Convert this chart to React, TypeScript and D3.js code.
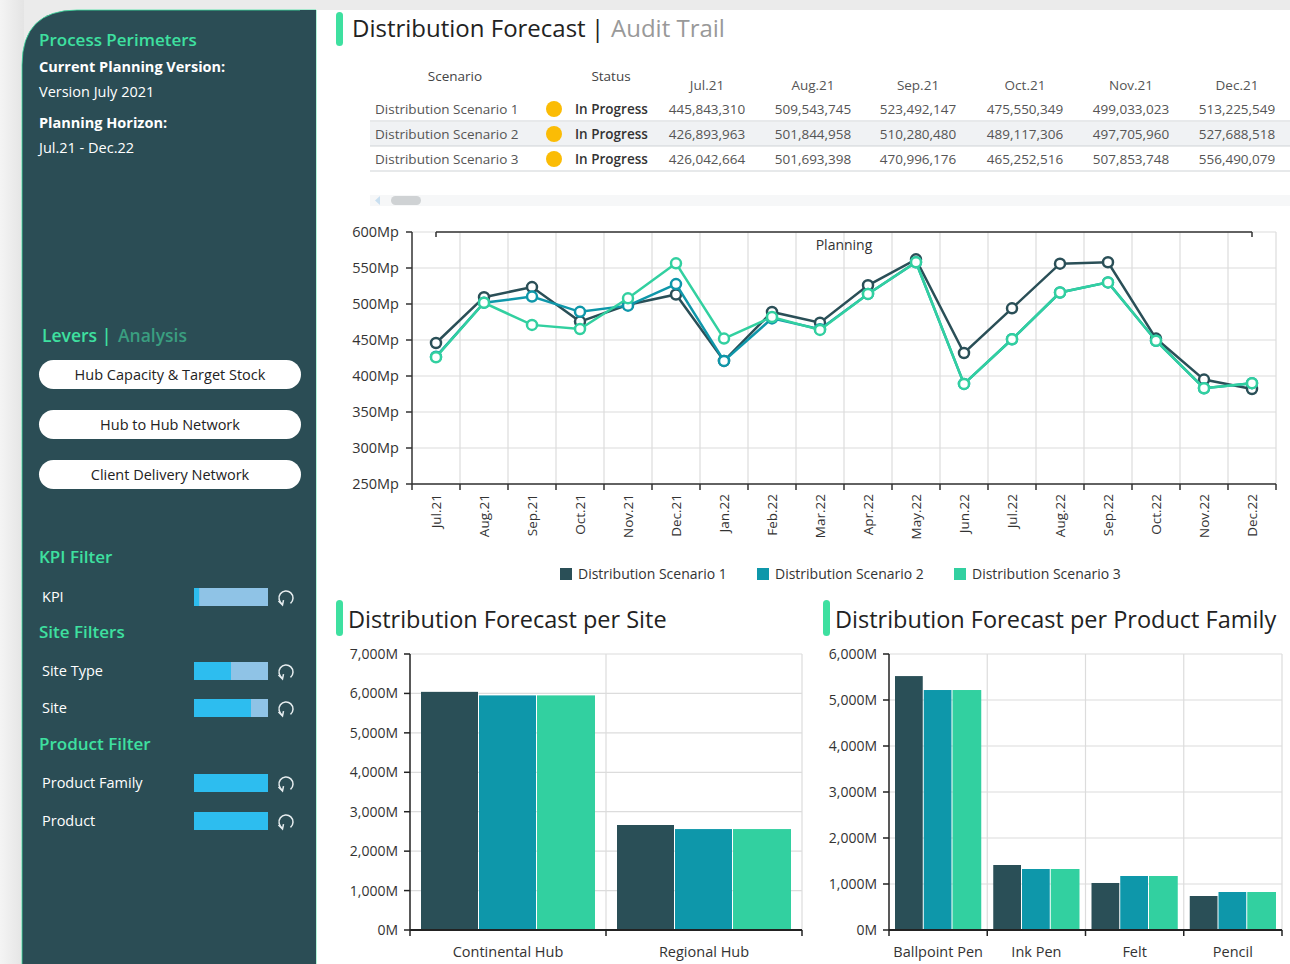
import React from "react";
import * as d3 from "d3";

const FONT = "'Open Sans', 'Noto Sans', sans-serif";
const C1 = "#2a4f57";
const C2 = "#0e97aa";
const C3 = "#32d0a0";
const GREEN = "#3ee0a0";
const SIDEBAR = "#2b4d55";

const scenarioNames = ["Distribution Scenario 1", "Distribution Scenario 2", "Distribution Scenario 3"];
const tableMonths = ["Jul.21", "Aug.21", "Sep.21", "Oct.21", "Nov.21", "Dec.21"];
const tableS1 = [445843310, 509543745, 523492147, 475550349, 499033023, 513225549];
const tableS2 = [426893963, 501844958, 510280480, 489117306, 497705960, 527688518];
const tableS3 = [426042664, 501693398, 470996176, 465252516, 507853748, 556490079];

const months = ["Jul.21", "Aug.21", "Sep.21", "Oct.21", "Nov.21", "Dec.21", "Jan.22", "Feb.22", "Mar.22", "Apr.22", "May.22", "Jun.22", "Jul.22", "Aug.22", "Sep.22", "Oct.22", "Nov.22", "Dec.22"];
const lineS1 = [445.8, 509.5, 523.5, 475.6, 499.0, 513.2, 421, 489, 474, 526, 562, 432, 494, 556, 558, 452, 395, 382];
const lineS2 = [426.9, 501.8, 510.3, 489.1, 497.7, 527.7, 421, 480, 465, 514, 558, 389, 451, 516, 530, 449, 383, 390];
const lineS3 = [426.0, 501.7, 471.0, 465.3, 507.9, 556.5, 452, 482, 464, 514, 558, 389, 451, 516, 530, 449, 383, 390];
const lineTicks = [250, 300, 350, 400, 450, 500, 550, 600];

const sites = ["Continental Hub", "Regional Hub"];
const siteS1 = [6040, 2663];
const siteS2 = [5950, 2560];
const siteS3 = [5950, 2560];
const siteTicks = [0, 1000, 2000, 3000, 4000, 5000, 6000, 7000];

const families = ["Ballpoint Pen", "Ink Pen", "Felt", "Pencil"];
const famS1 = [5520, 1413, 1022, 739];
const famS2 = [5217, 1326, 1174, 826];
const famS3 = [5217, 1326, 1174, 826];
const famTicks = [0, 1000, 2000, 3000, 4000, 5000, 6000];

const filters = [
  { label: "KPI", frac: 0.07, y: 597 },
  { label: "Site Type", frac: 0.5, y: 671 },
  { label: "Site", frac: 0.77, y: 708 },
  { label: "Product Family", frac: 1, y: 783 },
  { label: "Product", frac: 1, y: 821 },
];
const filterHeads = [
  { label: "KPI Filter", y: 557 },
  { label: "Site Filters", y: 632 },
  { label: "Product Filter", y: 744 },
];
const levers = ["Hub Capacity & Target Stock", "Hub to Hub Network", "Client Delivery Network"];

function ResetIcon({ cx, cy }: { cx: number; cy: number }) {
  const r = 7;
  const p = d3.path();
  const a0 = (120 * Math.PI) / 180;
  const a1 = ((120 + 290) * Math.PI) / 180;
  p.arc(cx, cy, r, a0, a1);
  const ex = cx + r * Math.cos(a0);
  const ey = cy + r * Math.sin(a0);
  return (
    <g>
      <path d={p.toString()} fill="none" stroke="#e8eef0" strokeWidth={1.5} />
      <path d={`M${ex - 4},${ey - 3} L${ex},${ey + 1} L${ex + 1},${ey - 4}`} fill="none" stroke="#e8eef0" strokeWidth={1.5} />
    </g>
  );
}

function Sidebar() {
  const sw = 74;
  return (
    <g fontFamily={FONT}>
      <path d="M22,65 Q22,10 77,10 L316,10 L316,970 L22,970 Z" fill={SIDEBAR} stroke={GREEN} strokeWidth={0.8} />
      <rect x={300} y={10} width={16} height={960} fill={SIDEBAR} />
      <text x={39} y={46} fill={GREEN} fontSize={17} fontWeight={600}>Process Perimeters</text>
      <text x={39} y={72} fill="#fff" fontSize={14.5} fontWeight={700}>Current Planning Version:</text>
      <text x={39} y={97} fill="#fff" fontSize={14.5}>Version July 2021</text>
      <text x={39} y={128} fill="#fff" fontSize={14.5} fontWeight={700}>Planning Horizon:</text>
      <text x={39} y={153} fill="#fff" fontSize={14.5}>Jul.21 - Dec.22</text>

      <text x={42} y={342} fill={GREEN} fontSize={17.5} fontWeight={600}>Levers |</text>
      <text x={118} y={342} fill="#3a9e80" fontSize={17.5} fontWeight={600}>Analysis</text>
      {levers.map((l, i) => (
        <g key={l}>
          <rect x={39} y={360 + i * 50} width={262} height={29} rx={14.5} fill="#fff" />
          <text x={170} y={380 + i * 50} textAnchor="middle" fill="#222" fontSize={14.5}>{l}</text>
        </g>
      ))}
      {filterHeads.map((h) => (
        <text key={h.label} x={39} y={h.y + 6} fill={GREEN} fontSize={17} fontWeight={600}>{h.label}</text>
      ))}
      {filters.map((f) => (
        <g key={f.label}>
          <text x={42} y={f.y + 5} fill="#fff" fontSize={14.5}>{f.label}</text>
          <rect x={194} y={f.y - 9} width={sw} height={18} fill="#8fc3e6" />
          <rect x={194} y={f.y - 9} width={sw * f.frac} height={18} fill="#2dbdef" />
          <ResetIcon cx={286} cy={f.y + 1} />
        </g>
      ))}
    </g>
  );
}

function Table() {
  const monthX = [707, 813, 918, 1025, 1131, 1237];
  const rows = [tableS1, tableS2, tableS3];
  const fmt = d3.format(",");
  const rowY = [109, 134, 159];
  return (
    <g fontFamily={FONT}>
      <text x={455} y={81} textAnchor="middle" fill="#444" fontSize={13.5}>Scenario</text>
      <text x={611} y={81} textAnchor="middle" fill="#444" fontSize={13.5}>Status</text>
      {tableMonths.map((m, i) => (
        <text key={m} x={monthX[i]} y={90} textAnchor="middle" fill="#555" fontSize={13.5}>{m}</text>
      ))}
      <rect x={370} y={122} width={920} height={24} fill="#f0f2f4" />
      {[121, 146, 171].map((y) => (
        <line key={y} x1={370} x2={1290} y1={y} y2={y} stroke="#cfd3d6" strokeWidth={1} />
      ))}
      {rows.map((vals, r) => (
        <g key={r}>
          <text x={375} y={rowY[r] + 5} fill="#555" fontSize={13.5}>{scenarioNames[r]}</text>
          <circle cx={554} cy={rowY[r]} r={8} fill="#fbbc05" />
          <text x={575} y={rowY[r] + 5} fill="#333" fontSize={13.5} fontWeight={600}>In Progress</text>
          {vals.map((v, i) => (
            <text key={i} x={monthX[i]} y={rowY[r] + 5} textAnchor="middle" fill="#555" fontSize={13.5}>{fmt(v)}</text>
          ))}
        </g>
      ))}
      <rect x={370} y={195} width={920} height={11} fill="#f6f7f8" />
      <path d="M380,196 L375,200.5 L380,205 Z" fill="#c9dff0" />
      <rect x={391} y={196} width={30} height={9} rx={4.5} fill="#cfd2d4" />
    </g>
  );
}

function LineChart() {
  const left = 412, right = 1276, top = 232, bottom = 484;
  const x = d3.scaleBand<string>().domain(months).range([left, right]);
  const y = d3.scaleLinear().domain([250, 600]).range([bottom, top]);
  const series = [
    { vals: lineS1, color: C1 },
    { vals: lineS2, color: C2 },
    { vals: lineS3, color: C3 },
  ];
  const line = d3.line<number>().x((_, i) => (x(months[i]) as number) + x.bandwidth() / 2).y((d) => y(d));
  const bounds = months.map((m) => x(m) as number).concat([right]);
  const cx0 = (x(months[0]) as number) + x.bandwidth() / 2;
  const cx1 = (x(months[months.length - 1]) as number) + x.bandwidth() / 2;
  return (
    <g fontFamily={FONT}>
      {lineTicks.map((t) => (
        <line key={t} x1={left} x2={right} y1={y(t)} y2={y(t)} stroke="#dcdcdc" strokeWidth={1.2} />
      ))}
      {bounds.slice(1).map((b, i) => (
        <line key={i} x1={b} x2={b} y1={top} y2={bottom} stroke="#dcdcdc" strokeWidth={1.2} />
      ))}
      <line x1={cx0} x2={cx1} y1={top} y2={top} stroke="#333" strokeWidth={1.5} />
      <line x1={cx0} x2={cx0} y1={top} y2={top + 5} stroke="#333" strokeWidth={1.5} />
      <line x1={cx1} x2={cx1} y1={top} y2={top + 5} stroke="#333" strokeWidth={1.5} />
      <text x={(cx0 + cx1) / 2} y={250} textAnchor="middle" fill="#333" fontSize={14}>Planning</text>
      <line x1={left} x2={left} y1={top} y2={bottom} stroke="#333" strokeWidth={1.5} />
      <line x1={left} x2={right} y1={bottom} y2={bottom} stroke="#333" strokeWidth={1.5} />
      {lineTicks.map((t) => (
        <g key={t}>
          <line x1={left - 6} x2={left} y1={y(t)} y2={y(t)} stroke="#333" strokeWidth={1.5} />
          <text x={399} y={y(t) + 5} textAnchor="end" fill="#333" fontSize={14.5}>{t}Mp</text>
        </g>
      ))}
      {bounds.map((b, i) => (
        <line key={i} x1={b} x2={b} y1={bottom} y2={bottom + 6} stroke="#333" strokeWidth={1.5} />
      ))}
      {months.map((m) => {
        const cx = (x(m) as number) + x.bandwidth() / 2;
        return (
          <text key={m} transform={`translate(${cx + 5},${494}) rotate(-90)`} textAnchor="end" fill="#333" fontSize={13.5}>{m}</text>
        );
      })}
      {series.map((s, si) => (
        <g key={si}>
          <path d={line(s.vals) as string} fill="none" stroke={s.color} strokeWidth={2.5} />
          {s.vals.map((v, i) => (
            <circle key={i} cx={(x(months[i]) as number) + x.bandwidth() / 2} cy={y(v)} r={5} fill="#fff" stroke={s.color} strokeWidth={2.5} />
          ))}
        </g>
      ))}
      {[C1, C2, C3].map((c, i) => (
        <g key={i}>
          <rect x={560 + i * 197} y={568} width={12} height={12} fill={c} />
          <text x={578 + i * 197} y={579} fill="#333" fontSize={14}>{scenarioNames[i]}</text>
        </g>
      ))}
    </g>
  );
}

function BarChart({ title, cats, s1, s2, s3, ticks, left, right, titleX, pad }: any) {
  const top = 654, bottom = 930;
  const x = d3.scaleBand<string>().domain(cats).range([left, right]);
  const y = d3.scaleLinear().domain([0, ticks[ticks.length - 1]]).range([bottom, top]);
  const inner = d3.scaleBand<number>().domain([0, 1, 2]).range([pad, x.bandwidth() - pad]);
  const fmt = d3.format(",");
  const series = [s1, s2, s3];
  const colors = [C1, C2, C3];
  const bounds = cats.map((c: string) => x(c) as number).concat([right]);
  return (
    <g fontFamily={FONT}>
      <rect x={titleX - 12} y={600} width={7} height={36} rx={3.5} fill={GREEN} />
      <text x={titleX} y={628} fill="#222" fontSize={23.5}>{title}</text>
      {ticks.map((t: number) => (
        <line key={t} x1={left} x2={right} y1={y(t)} y2={y(t)} stroke="#dcdcdc" strokeWidth={1.2} />
      ))}
      {bounds.slice(1).map((b: number, i: number) => (
        <line key={i} x1={b} x2={b} y1={top} y2={bottom} stroke="#dcdcdc" strokeWidth={1.2} />
      ))}
      {cats.map((c: string, ci: number) =>
        series.map((s, si) => (
          <rect key={c + si} x={(x(c) as number) + (inner(si) as number)} y={y(s[ci])} width={inner.bandwidth() - (si < 2 ? 1 : 0)} height={bottom - y(s[ci])} fill={colors[si]} />
        ))
      )}
      <line x1={left} x2={left} y1={top} y2={bottom} stroke="#222" strokeWidth={1.5} />
      <line x1={left} x2={right} y1={bottom} y2={bottom} stroke="#222" strokeWidth={2} />
      {ticks.map((t: number) => (
        <g key={t}>
          <line x1={left - 6} x2={left} y1={y(t)} y2={y(t)} stroke="#222" strokeWidth={1.5} />
          <text x={left - 12} y={y(t) + 5} textAnchor="end" fill="#333" fontSize={14}>{fmt(t)}M</text>
        </g>
      ))}
      {bounds.map((b: number, i: number) => (
        <line key={i} x1={b} x2={b} y1={bottom} y2={bottom + 6} stroke="#222" strokeWidth={1.5} />
      ))}
      {cats.map((c: string) => (
        <text key={c} x={(x(c) as number) + x.bandwidth() / 2} y={957} textAnchor="middle" fill="#333" fontSize={14.5}>{c}</text>
      ))}
    </g>
  );
}

export default function App() {
  return (
    <div style={{ position: "absolute", left: 0, top: 0 }}>
      <svg width={1290} height={964} style={{ display: "block" }}>
        <defs>
          <linearGradient id="shade" x1="0" x2="1" y1="0" y2="0">
            <stop offset="0" stopColor="#f4f4f4" />
            <stop offset="1" stopColor="#e4e4e4" />
          </linearGradient>
        </defs>
        <rect x={0} y={0} width={1290} height={964} fill="#ebebeb" />
        <rect x={0} y={0} width={24} height={964} fill="url(#shade)" />
        <rect x={280} y={10} width={1040} height={970} rx={30} fill="#fff" />
        <Sidebar />
        <g fontFamily={FONT}>
          <rect x={336} y={12} width={7} height={34} rx={3.5} fill={GREEN} />
          <text x={352} y={37} fill="#222" fontSize={24}>Distribution Forecast</text>
          <text x={591} y={37} fill="#222" fontSize={24}>|</text>
          <text x={611} y={37} fill="#999" fontSize={24}>Audit Trail</text>
        </g>
        <Table />
        <LineChart />
        <BarChart title="Distribution Forecast per Site" cats={sites} s1={siteS1} s2={siteS2} s3={siteS3} ticks={siteTicks} left={410} right={802} titleX={348} pad={11} />
        <BarChart title="Distribution Forecast per Product Family" cats={families} s1={famS1} s2={famS2} s3={famS3} ticks={famTicks} left={889} right={1282} titleX={835} pad={6} />
      </svg>
    </div>
  );
}
